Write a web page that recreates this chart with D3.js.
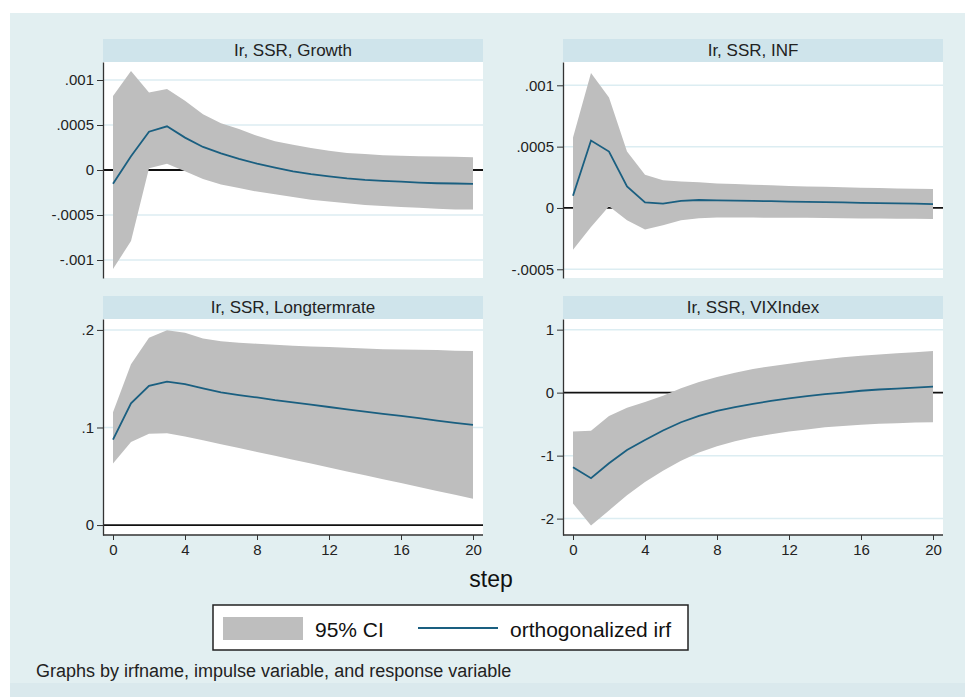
<!DOCTYPE html>
<head>
  <meta charset="utf-8">
  <script src="https://d3js.org/d3.v7.min.js"></script>
  <style>
    body { margin: 0; background: #fff; font-family: "Liberation Sans", Arial, sans-serif; }
    .tick text { font-size: 15px; fill: #222; }
    .title { font-size: 17px; fill: #222; }
  </style>
</head>
<body>
  <div id="vis"></div>
  <script>
    // ---- data ----
    var steps = [0,1,2,3,4,5,6,7,8,9,10,11,12,13,14,15,16,17,18,19,20];

    var growthIrf = [-0.000154,0.000154,0.000425,0.000485,0.00036,0.000256,0.000184,0.000124,0.00007,0.000026,-0.000015,-0.000045,-0.00007,-0.000094,-0.00011,-0.00012,-0.00013,-0.00014,-0.000147,-0.00015,-0.000154];
    var growthHi  = [0.000823,0.0011,0.00086,0.0009,0.00077,0.00062,0.00052,0.000455,0.00038,0.00032,0.00028,0.000244,0.000214,0.00019,0.000177,0.000165,0.000158,0.000154,0.00015,0.000147,0.000143];
    var growthLo  = [-0.0011,-0.00079,0.00002,0.00007,-0.000015,-0.0001,-0.00016,-0.0002,-0.00024,-0.00027,-0.0003,-0.00033,-0.00035,-0.00037,-0.00039,-0.0004,-0.00041,-0.00042,-0.00043,-0.00044,-0.00044];

    var infIrf = [0.0001,0.00055,0.00046,0.000176,0.000046,0.000035,0.000057,0.000065,0.000062,0.00006,0.000057,0.000055,0.000052,0.00005,0.000047,0.000045,0.000042,0.00004,0.000037,0.000035,0.000032];
    var infHi  = [0.000575,0.0011,0.0009,0.00046,0.00027,0.000225,0.000216,0.00021,0.0002,0.000195,0.00019,0.000185,0.00018,0.000176,0.000172,0.000168,0.000165,0.000162,0.000159,0.000157,0.000154];
    var infLo  = [-0.00034,-0.000155,0.000014,-0.0001,-0.000176,-0.00014,-0.0001,-0.000084,-0.000078,-0.000078,-0.000078,-0.00008,-0.00008,-0.00008,-0.000082,-0.000083,-0.000085,-0.000086,-0.000087,-0.000088,-0.000089];

    var ltrIrf = [0.0875,0.1247,0.1427,0.147,0.1444,0.14,0.136,0.1332,0.1308,0.128,0.1258,0.1234,0.121,0.1186,0.1163,0.114,0.1119,0.1095,0.1071,0.1047,0.1027];
    var ltrHi  = [0.1156,0.1647,0.192,0.1997,0.197,0.1912,0.1885,0.1868,0.1858,0.1847,0.1837,0.183,0.1824,0.1817,0.181,0.1803,0.18,0.1797,0.1793,0.1786,0.1783];
    var ltrLo  = [0.063,0.085,0.0935,0.094,0.0908,0.0869,0.0829,0.0789,0.0749,0.071,0.067,0.063,0.059,0.055,0.051,0.047,0.043,0.039,0.035,0.031,0.027];

    var vixIrf = [-1.184,-1.358,-1.12,-0.91,-0.753,-0.6,-0.47,-0.37,-0.29,-0.23,-0.18,-0.13,-0.09,-0.055,-0.025,0.0,0.03,0.05,0.065,0.08,0.095];
    var vixHi  = [-0.615,-0.605,-0.37,-0.24,-0.15,-0.05,0.07,0.17,0.25,0.315,0.375,0.42,0.46,0.5,0.53,0.56,0.585,0.605,0.625,0.64,0.66];
    var vixLo  = [-1.76,-2.11,-1.87,-1.63,-1.42,-1.24,-1.08,-0.95,-0.85,-0.77,-0.71,-0.66,-0.615,-0.585,-0.55,-0.53,-0.51,-0.495,-0.485,-0.475,-0.47];

    var titles = ["Ir, SSR, Growth", "Ir, SSR, INF", "Ir, SSR, Longtermrate", "Ir, SSR, VIXIndex"];
    var xTicks = [0, 4, 8, 12, 16, 20];
    var growthTicks = [-0.001, -0.0005, 0, 0.0005, 0.001];
    var infTicks = [-0.0005, 0, 0.0005, 0.001];
    var ltrTicks = [0, 0.1, 0.2];
    var vixTicks = [-2, -1, 0, 1];

    var legendLabels = ["95% CI", "orthogonalized irf"];
    var footNote = "Graphs by irfname, impulse variable, and response variable";
    var xTitle = "step";

    // ---- layout ----
    var W = 965, H = 697;
    var bandColor = "#bebebe", lineColor = "#1a5f80", gridColor = "#dcedf2";

    var panels = [
      { title: titles[0], irf: growthIrf, lo: growthLo, hi: growthHi, ticks: growthTicks, domain: [-0.0012, 0.0012], left: 103, top: 39, xaxis: false },
      { title: titles[1], irf: infIrf, lo: infLo, hi: infHi, ticks: infTicks, domain: [-0.000571, 0.00119], left: 563, top: 39, xaxis: false },
      { title: titles[2], irf: ltrIrf, lo: ltrLo, hi: ltrHi, ticks: ltrTicks, domain: [-0.0102, 0.2112], left: 103, top: 296, xaxis: true },
      { title: titles[3], irf: vixIrf, lo: vixLo, hi: vixHi, ticks: vixTicks, domain: [-2.26, 1.169], left: 563, top: 296, xaxis: true }
    ];
    var pw = 380, headH = 23;

    var svg = d3.select("#vis").append("svg")
      .attr("width", W).attr("height", H);

    svg.append("rect").attr("x", 10).attr("y", 13).attr("width", W - 10).attr("height", H - 13)
      .attr("fill", "#e2eff1");
    svg.append("rect").attr("x", 10).attr("y", 683).attr("width", W - 10).attr("height", H - 683)
      .attr("fill", "#dae9ed");

    // Stata style labels: .0005, -.001
    function fmt(d) {
      if (d === 0) return "0";
      return d3.format("")(d).replace("\u2212", "-").replace("0.", ".");
    }

    panels.forEach(function (p) {
      var plotTop = p.top + headH;
      var plotBottom = p.xaxis ? 535 : 278;
      var g = svg.append("g");

      // header strip
      g.append("rect").attr("x", p.left).attr("y", p.top).attr("width", pw).attr("height", headH)
        .attr("fill", "#cfe4eb");
      g.append("text").attr("class", "title")
        .attr("x", p.left + pw / 2).attr("y", p.top + 17)
        .attr("text-anchor", "middle").text(p.title);

      // plot region
      g.append("rect").attr("x", p.left).attr("y", plotTop).attr("width", pw).attr("height", plotBottom - plotTop)
        .attr("fill", "#fff");

      var x = d3.scaleLinear().domain([0, 20]).range([p.left + 10, p.left + pw - 10]);
      var y = d3.scaleLinear().domain(p.domain).range([plotBottom, plotTop]);

      // grid lines
      g.selectAll(".grid").data(p.ticks.filter(function (t) { return t !== 0; })).enter()
        .append("line")
        .attr("x1", p.left).attr("x2", p.left + pw)
        .attr("y1", y).attr("y2", y)
        .attr("stroke", gridColor).attr("stroke-width", 1.5);

      // zero line
      g.append("line")
        .attr("x1", p.left).attr("x2", p.left + pw)
        .attr("y1", y(0)).attr("y2", y(0))
        .attr("stroke", "#111").attr("stroke-width", 1.8);

      // CI band
      var area = d3.area()
        .x(function (d, i) { return x(steps[i]); })
        .y0(function (d, i) { return y(p.lo[i]); })
        .y1(function (d, i) { return y(p.hi[i]); });
      g.append("path").datum(steps).attr("d", area).attr("fill", bandColor);

      // irf line
      var line = d3.line()
        .x(function (d, i) { return x(steps[i]); })
        .y(function (d) { return y(d); });
      g.append("path").datum(p.irf).attr("d", line)
        .attr("fill", "none").attr("stroke", lineColor).attr("stroke-width", 1.8);

      // y axis
      var ya = g.append("g").attr("transform", "translate(" + p.left + ",0)")
        .call(d3.axisLeft(y).tickValues(p.ticks).tickFormat(fmt).tickSize(6).tickPadding(3).tickSizeOuter(0));
      ya.select(".domain").attr("stroke", "#333").attr("stroke-width", 1.3);
      ya.selectAll(".tick line").attr("stroke", "#333");
      ya.selectAll("text").style("font-family", "Liberation Sans, Arial, sans-serif");

      if (p.xaxis) {
        var xa = g.append("g").attr("transform", "translate(0," + plotBottom + ")")
          .call(d3.axisBottom(x).tickValues(xTicks).tickSize(5).tickPadding(4).tickSizeOuter(0));
        xa.select(".domain").attr("d", "M" + p.left + ",0H" + (p.left + pw))
          .attr("stroke", "#333").attr("stroke-width", 1.3);
        xa.selectAll(".tick line").attr("stroke", "#333");
        xa.selectAll("text").style("font-family", "Liberation Sans, Arial, sans-serif");
      }
    });

    // x title
    svg.append("text").attr("x", 491).attr("y", 587).attr("text-anchor", "middle")
      .style("font-size", "23px").attr("fill", "#111").text(xTitle);

    // legend
    var lg = svg.append("g");
    lg.append("rect").attr("x", 213).attr("y", 605).attr("width", 475).attr("height", 45)
      .attr("fill", "#fff").attr("stroke", "#222").attr("stroke-width", 1.5);
    lg.append("rect").attr("x", 223).attr("y", 617).attr("width", 80).attr("height", 23)
      .attr("fill", bandColor);
    lg.append("text").attr("x", 315).attr("y", 637).style("font-size", "21px").attr("fill", "#111")
      .text(legendLabels[0]);
    lg.append("line").attr("x1", 418).attr("x2", 498).attr("y1", 628).attr("y2", 628)
      .attr("stroke", lineColor).attr("stroke-width", 2);
    lg.append("text").attr("x", 510).attr("y", 637).style("font-size", "21px").attr("fill", "#111")
      .text(legendLabels[1]);

    // note
    svg.append("text").attr("x", 36).attr("y", 677).style("font-size", "18px").attr("fill", "#222")
      .text(footNote);
  </script>
</body>
